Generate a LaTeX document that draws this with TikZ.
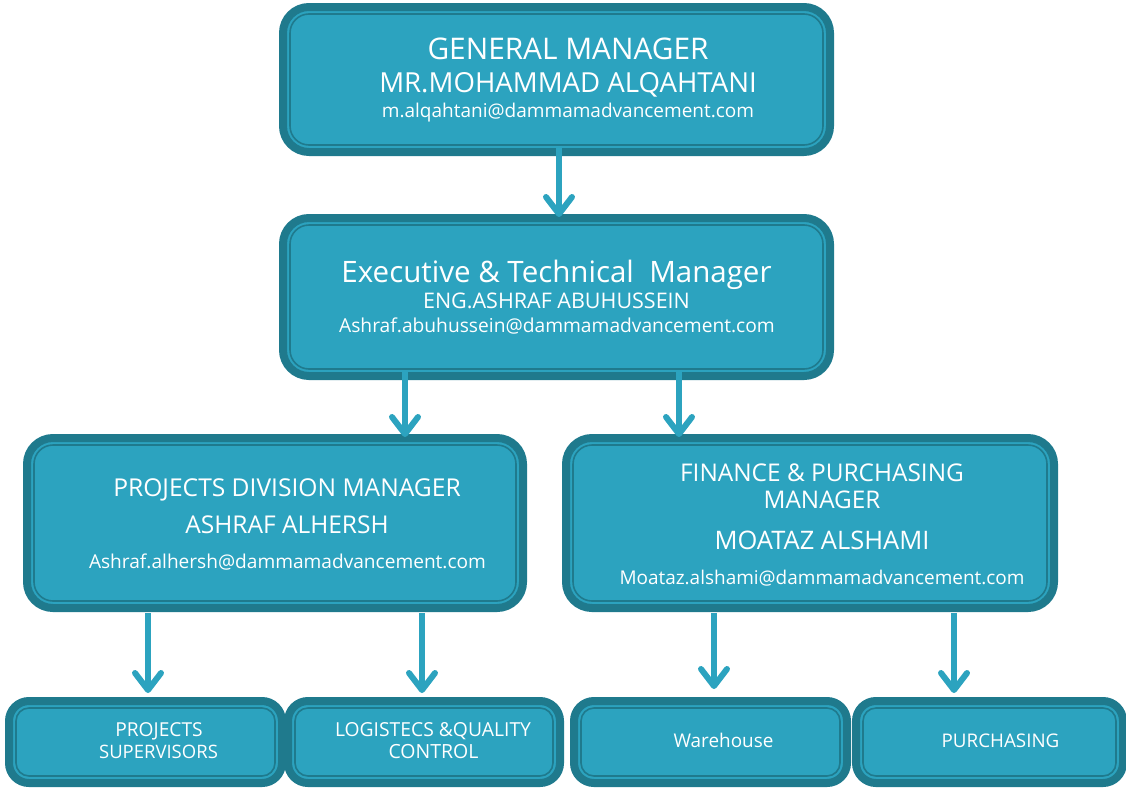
\documentclass[tikz,border=0pt]{standalone}
\usepackage{fontspec}
\setmainfont{Open Sans}
\usetikzlibrary{arrows.meta}
\definecolor{tmain}{HTML}{2CA3BF}
\definecolor{tdark}{HTML}{1F7A8D}
\tikzset{
  orgbox/.style={draw=tdark, fill=tmain, line width=8pt, outer sep=0pt, inner sep=0pt},
  innerline/.style={draw=tdark, line width=1.6pt},
  txt/.style={text=white, anchor=base, inner sep=0pt},
  link/.style={draw=tmain, line width=6pt, -{Straight Barb[length=17pt,width=26pt,round]}},
}
\newcommand{\orgbx}[6]{%
  \node[orgbox, rounded corners=#6pt, minimum width={#4-#2-8pt}, minimum height={#5-#3-8pt}]
    (#1) at ({(#2+#4)/2},{(#3+#5)/2}) {};
  \draw[innerline, rounded corners={#6pt-7pt}] ([shift={(7pt,-7pt)}]#1.north west) rectangle ([shift={(-7pt,7pt)}]#1.south east);
}
\newcommand{\fs}[1]{\fontsize{#1}{#1}\selectfont}
\begin{document}
\begin{tikzpicture}[x=1pt,y=-1pt]
\useasboundingbox (0,0) rectangle (1126,787);
\orgbx{gm}{279}{3}{834}{156}{26}
\orgbx{ex}{279}{214}{834}{380}{26}
\orgbx{pd}{23}{434}{527}{612}{26}
\orgbx{fp}{562}{434}{1058}{612}{26}
\orgbx{ps}{5}{697}{286}{787}{20}
\orgbx{lq}{284}{697}{564}{787}{20}
\orgbx{wh}{570}{697}{851}{787}{20}
\orgbx{pu}{852}{697}{1127}{787}{20}

\node[txt, font=\fs{29.8}] (t1a) at (568,59) {GENERAL MANAGER};
\node[txt, font=\fs{27.6}] (t1b) at (568,92) {MR.MOHAMMAD ALQAHTANI};
\node[txt, font=\fs{19}] (t1c) at (568,117) {m.alqahtani@dammamadvancement.com};

\node[txt, font=\fs{29.5}] (t2a) at (556.5,282) {Executive \& Technical \ Manager};
\node[txt, font=\fs{21.5}] (t2b) at (556.5,308) {ENG.ASHRAF ABUHUSSEIN};
\node[txt, font=\fs{19.2}] (t2c) at (557,332) {Ashraf.abuhussein@dammamadvancement.com};

\node[txt, font=\fs{24.6}] (t3a) at (287,496) {PROJECTS DIVISION MANAGER};
\node[txt, font=\fs{24.5}] (t3b) at (287,533) {ASHRAF ALHERSH};
\node[txt, font=\fs{19.1}] (t3c) at (287.5,568) {Ashraf.alhersh@dammamadvancement.com};

\node[txt, font=\fs{24.4}] (t4a) at (822,481) {FINANCE \& PURCHASING};
\node[txt, font=\fs{24.3}] (t4b) at (822,508) {MANAGER};
\node[txt, font=\fs{25.5}] (t4c) at (822,549) {MOATAZ ALSHAMI};
\node[txt, font=\fs{18.95}] (t4d) at (822,584) {Moataz.alshami@dammamadvancement.com};

\node[txt, font=\fs{19.2}] (t5a) at (159,736) {PROJECTS};
\node[txt, font=\fs{18.5}] (t5b) at (158.5,758) {SUPERVISORS};
\node[txt, font=\fs{19.3}] (t6a) at (433,736) {LOGISTECS \&QUALITY};
\node[txt, font=\fs{19.5}] (t6b) at (433.5,758) {CONTROL};
\node[txt, font=\fs{18.9}] (t7) at (723.5,747) {Warehouse};
\node[txt, font=\fs{18.8}] (t8) at (1000.5,747) {PURCHASING};

\coordinate (a1s) at (559,148); \coordinate (a1e) at (559,217);
\coordinate (a2s) at (405,372); \coordinate (a2e) at (405,437);
\coordinate (a3s) at (679,372); \coordinate (a3e) at (679,437);
\coordinate (a4s) at (148,613); \coordinate (a4e) at (148,693);
\coordinate (a5s) at (422,613); \coordinate (a5e) at (422,693);
\coordinate (a6s) at (714,613); \coordinate (a6e) at (714,689);
\coordinate (a7s) at (954,613); \coordinate (a7e) at (954,693);
\foreach \i in {1,...,7} \draw[link] (a\i s) -- (a\i e);
\end{tikzpicture}
\end{document}
